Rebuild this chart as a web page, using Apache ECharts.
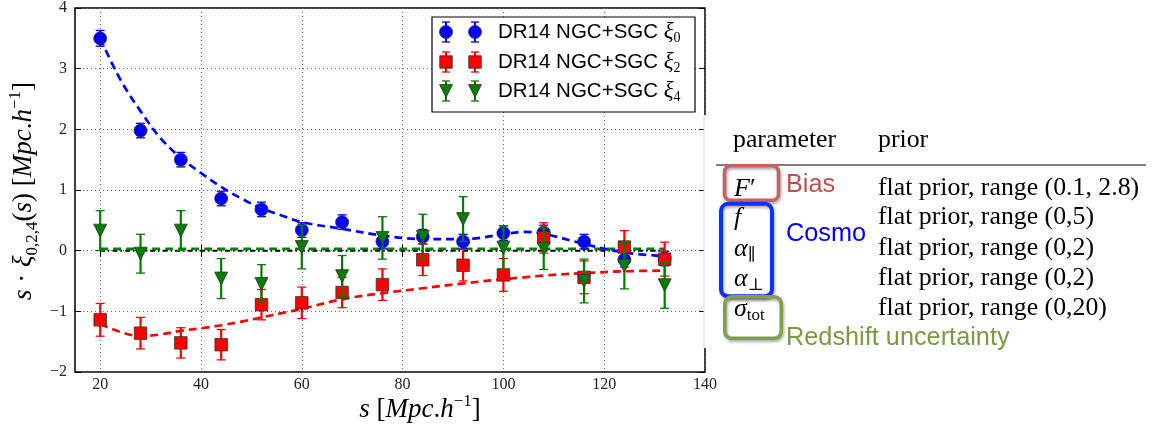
<!DOCTYPE html>
<html><head><meta charset="utf-8">
<script src="https://cdn.jsdelivr.net/npm/echarts@6/dist/echarts.min.js"></script>
<style>html,body{margin:0;padding:0;background:#fff;}#c{width:1152px;height:433px;}</style>
</head><body><div id="c"></div>
<script>
// ---- data ----
const sValues = [20, 28, 36, 44, 52, 60, 68, 76, 84, 92, 100, 108, 116, 124, 132];
const xi0    = [3.50, 1.98, 1.50, 0.86, 0.68, 0.34, 0.47, 0.15, 0.23, 0.15, 0.29, 0.30, 0.15, -0.15, -0.13];
const xi0Err = [0.13, 0.12, 0.12, 0.12, 0.12, 0.12, 0.12, 0.12, 0.12, 0.12, 0.12, 0.12, 0.12, 0.12, 0.12];
const xi2    = [-1.14, -1.36, -1.52, -1.55, -0.89, -0.86, -0.69, -0.56, -0.15, -0.24, -0.40, 0.21, -0.44, 0.06, -0.14];
const xi2Err = [0.27, 0.26, 0.25, 0.25, 0.25, 0.26, 0.25, 0.26, 0.26, 0.26, 0.27, 0.25, 0.27, 0.27, 0.28];
const xi4    = [0.33, -0.05, 0.33, -0.46, -0.55, 0.06, -0.42, 0.21, 0.23, 0.52, 0.05, 0.03, -0.50, -0.25, -0.57];
const xi4Err = [0.33, 0.32, 0.33, 0.33, 0.32, 0.36, 0.34, 0.35, 0.37, 0.37, 0.36, 0.34, 0.36, 0.38, 0.38];

const modelS   = [20, 24, 28, 32, 36, 40, 44, 48, 52, 56, 60, 68, 76, 84, 92, 100, 104, 108, 116, 124, 132];
const xi0Model = [3.50, 2.82, 2.30, 1.85, 1.53, 1.28, 1.05, 0.86, 0.70, 0.58, 0.47, 0.36, 0.25, 0.19, 0.19, 0.27, 0.31, 0.28, 0.11, -0.03, -0.09];
const xi2Model = [-1.21, -1.34, -1.41, -1.38, -1.32, -1.28, -1.23, -1.17, -1.10, -1.03, -0.96, -0.80, -0.70, -0.62, -0.54, -0.47, -0.44, -0.41, -0.37, -0.34, -0.33];
const xi4Model = [0.03, 0.03, 0.03, 0.03, 0.03, 0.03, 0.03, 0.03, 0.03, 0.03, 0.03, 0.03, 0.03, 0.03, 0.03, 0.03, 0.03, 0.03, 0.03, 0.03, 0.03];
const zeroS    = [20, 132];
const zeroVals = [0, 0];

const xTicks = [20, 40, 60, 80, 100, 120, 140];
const yTicks = [-2, -1, 0, 1, 2, 3, 4];
const legendLabels = ['DR14 NGC+SGC ', 'DR14 NGC+SGC ', 'DR14 NGC+SGC '];
const legendSubs = ['0', '2', '4'];

const tableHeader = ['parameter', 'prior'];
const priorTexts = ['flat prior, range (0.1, 2.8)', 'flat prior, range (0,5)', 'flat prior, range (0,2)', 'flat prior, range (0,2)', 'flat prior, range (0,20)'];
const paramSymbols = ['{i|F}{n|′}', '{i|f}', '{i|α}{sub|∥}', '{i|α}{sub|⊥}', '{i|σ}{sub|tot}'];
const groupLabels = ['Bias', 'Cosmo', 'Redshift uncertainty'];

// ---- styling ----
const SERIF = "'Liberation Serif','DejaVu Serif',serif";
const SANS = "'Liberation Sans','DejaVu Sans',sans-serif";
const BLUE = '#0000ff', RED = '#ff0000', GREEN = '#007f00';

const zip = (a, b) => a.map((v, i) => [v, b[i]]);
const zip3 = (a, b, c) => a.map((v, i) => [v, b[i], c[i]]);

function errRender(color) {
  return function (params, api) {
    const x = api.value(0), y = api.value(1), e = api.value(2);
    const t = api.coord([x, y + e]), b = api.coord([x, y - e]);
    const c = 4.5;
    return { type: 'group', children: [
      { type: 'line', shape: { x1: t[0], y1: t[1], x2: b[0], y2: b[1] }, style: { stroke: color, lineWidth: 2.2 } },
      { type: 'line', shape: { x1: t[0] - c, y1: t[1], x2: t[0] + c, y2: t[1] }, style: { stroke: color, lineWidth: 1.3 } },
      { type: 'line', shape: { x1: b[0] - c, y1: b[1], x2: b[0] + c, y2: b[1] }, style: { stroke: color, lineWidth: 1.3 } }
    ]};
  };
}

function lineSeries(data, color, dash, z, width) {
  return { type: 'line', data: data, symbol: 'none', smooth: 0.35, z: z, silent: true,
    lineStyle: { color: color, width: width || 2.7, type: dash } };
}
function errSeries(data, color, z) {
  return { type: 'custom', data: data, renderItem: errRender(color), z: z, silent: true,
    encode: { x: 0, y: 1 }, dimensions: ['s', 'v', 'e'] };
}
function ptSeries(data, color, symbol, z, rot) {
  return { type: 'scatter', data: data, symbol: symbol, symbolSize: symbol === 'rect' ? 12.5 : 13,
    symbolRotate: rot || 0, z: z, silent: true,
    itemStyle: { color: color, borderColor: '#333', borderWidth: 0.8, opacity: 1 } };
}

const sharedTick = { inside: true, length: 6, lineStyle: { color: '#000', width: 1 } };

// ---- graphic: legend, axis titles, table ----
const graphics = [];
graphics.push({ type: 'rect', z: 100, shape: { x: 432, y: 17, width: 263, height: 95 },
  style: { fill: '#fff', stroke: '#000', lineWidth: 1.2 } });
const legColors = [BLUE, RED, GREEN];
const legShapes = ['circle', 'rect', 'tri'];
const legRowsY = [32, 62, 91];
const legMarkX = [446, 475];
legRowsY.forEach((y, r) => {
  legMarkX.forEach(x => {
    const col = legColors[r];
    graphics.push({ type: 'line', z: 101, shape: { x1: x, y1: y - 10, x2: x, y2: y + 10 }, style: { stroke: col, lineWidth: 2 } });
    graphics.push({ type: 'line', z: 101, shape: { x1: x - 4, y1: y - 10, x2: x + 4, y2: y - 10 }, style: { stroke: col, lineWidth: 1.3 } });
    graphics.push({ type: 'line', z: 101, shape: { x1: x - 4, y1: y + 10, x2: x + 4, y2: y + 10 }, style: { stroke: col, lineWidth: 1.3 } });
    const st = { fill: col, stroke: '#333', lineWidth: 0.8 };
    if (legShapes[r] === 'circle') graphics.push({ type: 'circle', z: 102, shape: { cx: x, cy: y, r: 6.5 }, style: st });
    else if (legShapes[r] === 'rect') graphics.push({ type: 'rect', z: 102, shape: { x: x - 6.25, y: y - 6.25, width: 12.5, height: 12.5 }, style: st });
    else graphics.push({ type: 'polygon', z: 102, shape: { points: [[x - 6.5, y - 6.5], [x + 6.5, y - 6.5], [x, y + 6.5]] }, style: st });
  });
  graphics.push({ type: 'text', z: 102, x: 498, y: y, style: {
    text: '{t|' + legendLabels[r] + '}{m|ξ}{s|' + legendSubs[r] + '}',
    align: 'left', verticalAlign: 'middle', textAlign: 'left', textVerticalAlign: 'middle',
    rich: {
      t: { fontFamily: SANS, fontSize: 20.5, color: '#000', lineHeight: 26, verticalAlign: 'middle' },
      m: { fontFamily: SERIF, fontStyle: 'italic', fontSize: 23, color: '#444', lineHeight: 26, verticalAlign: 'middle' },
      s: { fontFamily: SERIF, fontSize: 14, color: '#444', lineHeight: 14, verticalAlign: 'bottom' }
    } } });
});

const mathRich = {
  i: { fontFamily: SERIF, fontStyle: 'italic', fontSize: 27, color: '#000', lineHeight: 34, verticalAlign: 'middle' },
  n: { fontFamily: SERIF, fontSize: 27, color: '#000', lineHeight: 34, verticalAlign: 'middle' },
  sub: { fontFamily: SERIF, fontSize: 17, color: '#000', lineHeight: 17, verticalAlign: 'bottom' },
  sup: { fontFamily: SERIF, fontSize: 17, color: '#000', lineHeight: 17, verticalAlign: 'top' }
};
graphics.push({ type: 'text', z: 100, x: 420, y: 410, style: {
  text: '{i|s}{n| [}{i|Mpc}{n|.}{i|h}{sup|−1}{n|]}', align: 'center', verticalAlign: 'middle',
  textAlign: 'center', textVerticalAlign: 'middle', rich: mathRich } });
graphics.push({ type: 'text', z: 100, x: 24, y: 191, rotation: Math.PI / 2, style: {
  text: '{i|s}{n| · }{i|ξ}{sub|0,2,4}{n|(}{i|s}{n|) [}{i|Mpc}{n|.}{i|h}{sup|−1}{n|]}', align: 'center', verticalAlign: 'middle',
  textAlign: 'center', textVerticalAlign: 'middle', rich: mathRich } });

graphics.push({ type: 'rect', z: 110, shape: { x: 704, y: 115, width: 448, height: 233 }, style: { fill: '#fff' } });
graphics.push({ type: 'line', z: 111, shape: { x1: 704, y1: 115, x2: 704, y2: 348 }, style: { stroke: '#d6d6d6', lineWidth: 1 } });

const tabFont = { fontFamily: SERIF, fontSize: 25.8, fill: '#000' };
graphics.push({ type: 'text', z: 112, x: 733, y: 140, style: Object.assign({ text: tableHeader[0], align: 'left', verticalAlign: 'middle' }, tabFont) });
graphics.push({ type: 'text', z: 112, x: 878, y: 140, style: Object.assign({ text: tableHeader[1], align: 'left', verticalAlign: 'middle' }, tabFont) });
graphics.push({ type: 'line', z: 112, shape: { x1: 716, y1: 165, x2: 1146, y2: 165 }, style: { stroke: '#000', lineWidth: 1 } });
const rowY = [188, 217, 248, 278, 308];
const symRich = {
  i: { fontFamily: SERIF, fontStyle: 'italic', fontSize: 26, color: '#000', lineHeight: 30, verticalAlign: 'middle' },
  n: { fontFamily: SERIF, fontSize: 26, color: '#000', lineHeight: 30, verticalAlign: 'middle' },
  sub: { fontFamily: SERIF, fontSize: 17, color: '#000', lineHeight: 17, verticalAlign: 'bottom' }
};
priorTexts.forEach((t, k) => {
  graphics.push({ type: 'text', z: 112, x: 878, y: rowY[k], style: Object.assign({ text: t, align: 'left', verticalAlign: 'middle' }, tabFont) });
  graphics.push({ type: 'text', z: 113, x: 734, y: rowY[k] + 1, style: { text: paramSymbols[k], align: 'left', verticalAlign: 'middle', rich: symRich } });
});
const shadow = { shadowBlur: 3, shadowColor: 'rgba(0,0,0,0.35)', shadowOffsetX: 1, shadowOffsetY: 2 };
graphics.push({ type: 'rect', z: 114, shape: { x: 724.5, y: 165.8, width: 54, height: 34.5, r: 6 },
  style: Object.assign({ fill: 'none', stroke: '#c8625e', lineWidth: 3.5 }, shadow) });
graphics.push({ type: 'rect', z: 114, shape: { x: 721, y: 203.8, width: 51, height: 92.5, r: 7 },
  style: Object.assign({ fill: 'none', stroke: '#0a32ff', lineWidth: 4 }, shadow) });
graphics.push({ type: 'rect', z: 114, shape: { x: 724.8, y: 296.8, width: 56.5, height: 41.5, r: 7 },
  style: Object.assign({ fill: 'none', stroke: '#80a04c', lineWidth: 3.5 }, shadow) });
const groupStyle = [
  { x: 786, y: 185, fill: '#c0504d' },
  { x: 786, y: 234, fill: '#0000ff' },
  { x: 786, y: 338, fill: '#7a9b42' }
];
groupLabels.forEach((g, k) => {
  graphics.push({ type: 'text', z: 115, x: groupStyle[k].x, y: groupStyle[k].y, style: {
    text: g, fontFamily: SANS, fontSize: 25.3, fill: groupStyle[k].fill, align: 'left', verticalAlign: 'middle' } });
});

const minusFmt = v => (v < 0 ? '−' + Math.abs(v) : String(v));

const option = {
  animation: false,
  backgroundColor: '#fff',
  grid: { left: 75, right: 447, top: 7, bottom: 61, show: true, borderColor: '#000', borderWidth: 1.5, backgroundColor: 'transparent' },
  xAxis: [
    { type: 'value', min: 15, max: 140, position: 'bottom', axisLine: { show: false },
      axisTick: Object.assign({ customValues: xTicks }, sharedTick),
      axisLabel: { customValues: xTicks, color: '#222', fontFamily: SERIF, fontSize: 16, margin: 5 },
      splitLine: { show: true, lineStyle: { color: '#666', width: 1, type: [1, 3] } } },
    { type: 'value', min: 15, max: 140, position: 'top', axisLine: { show: false },
      axisTick: Object.assign({ customValues: xTicks }, sharedTick),
      axisLabel: { show: false }, splitLine: { show: false } }
  ],
  yAxis: [
    { type: 'value', min: -2, max: 4, interval: 1, position: 'left', axisLine: { show: false },
      axisTick: Object.assign({}, sharedTick),
      axisLabel: { color: '#222', fontFamily: SERIF, fontSize: 16, margin: 8, formatter: minusFmt },
      splitLine: { show: true, lineStyle: { color: '#666', width: 1, type: [1, 3] } } },
    { type: 'value', min: -2, max: 4, interval: 1, position: 'right', axisLine: { show: false },
      axisTick: Object.assign({}, sharedTick), axisLabel: { show: false }, splitLine: { show: false } }
  ],
  series: [
    lineSeries(zip(zeroS, zeroVals), '#000', [5, 3, 1.5, 3], 2, 2),
    lineSeries(zip(modelS, xi4Model), GREEN, [8, 5], 3),
    lineSeries(zip(modelS, xi0Model), BLUE, [8, 5], 3),
    lineSeries(zip(modelS, xi2Model), RED, [8, 5], 3),
    errSeries(zip3(sValues, xi0, xi0Err), BLUE, 4),
    ptSeries(zip(sValues, xi0), BLUE, 'circle', 5),
    errSeries(zip3(sValues, xi2, xi2Err), RED, 6),
    ptSeries(zip(sValues, xi2), RED, 'rect', 7),
    errSeries(zip3(sValues, xi4, xi4Err), GREEN, 8),
    ptSeries(zip(sValues, xi4), GREEN, 'triangle', 9, 180)
  ],
  graphic: { elements: graphics }
};
const chart = echarts.init(document.getElementById('c'), null, { renderer: 'canvas' });
chart.setOption(option);
</script>
</body></html>
